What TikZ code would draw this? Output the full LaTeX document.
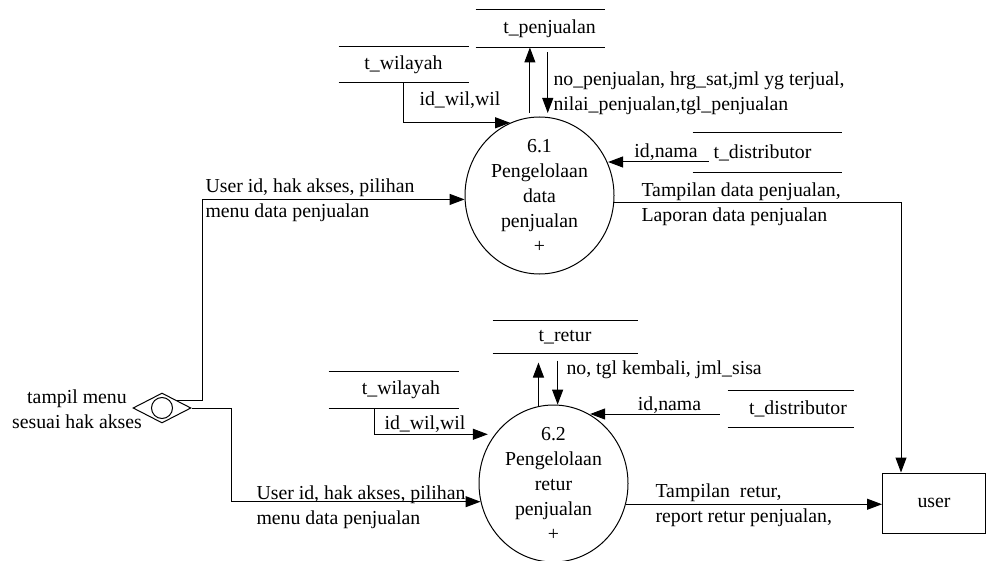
\documentclass[tikz,border=0pt]{standalone}
\usepackage{fontspec}
\setmainfont{Liberation Serif}
\usetikzlibrary{arrows.meta,shapes.geometric,calc}
\tikzset{
  proses/.style={ellipse,draw,minimum width=149pt,minimum height=157pt,inner xsep=0pt,inner ysep=-6pt,align=center},
  store/.style={inner sep=0pt,minimum width=#1,append after command={
      (\tikzlastnode.north west) edge (\tikzlastnode.north east)
      (\tikzlastnode.south west) edge (\tikzlastnode.south east)}},
  ket/.style={align=left,inner sep=0pt,anchor=west},
}
\begin{document}
\begin{tikzpicture}[x=1pt,y=-1pt,line width=1pt,>={Triangle[length=15pt,width=11pt]},
  font=\fontsize{19.8pt}{25pt}\selectfont]
  \useasboundingbox (0,0) rectangle (987,561);
  % proses
  \node[proses] (p61) at (539.5,195.5) {6.1\\Pengelolaan\\data\\penjualan\\+};
  \node[proses] (p62) at (553.5,483.5) {6.2\\Pengelolaan\\retur\\penjualan\\+};
  % entitas dan menu
  \node[draw,minimum width=103pt,minimum height=60pt] (user) at (934,503) {user};
  \node[diamond,draw,minimum width=58pt,minimum height=30pt,inner sep=0pt] (akses) at (162,408) {};
  \draw (akses.center) circle (10.5);
  \node[align=center] (aksesket) at (77,409.5) {tampil menu\\sesuai hak akses};
  % data store
  \node[store=128pt,minimum height=37pt,label={[xshift=9.5pt]center:t\_penjualan}] (tpj) at (540,28.5) {};
  \node[store=129pt,minimum height=35pt,label={center:t\_wilayah}] (tw1) at (403.5,64.5) {};
  \node[store=148pt,minimum height=39pt,label={[xshift=-4.5pt]center:t\_distributor}] (td1) at (767,152.5) {};
  \node[store=144pt,minimum height=32pt,label={center:t\_retur}] (tr) at (565,337) {};
  \node[store=129pt,minimum height=36pt,label={[xshift=7.5pt]center:t\_wilayah}] (tw2) at (393.5,390) {};
  \node[store=125pt,minimum height=36pt,label={[xshift=7.5pt]center:t\_distributor}] (td2) at (790.5,409) {};
  % aliran 6.1
  \draw[->] (tw1.south) |- (p61.112);
  \node at (460,100) {id\_wil,wil};
  \draw[->] ($(p61.97)+(0,-4)$) -- (p61.97 |- tpj.south);
  \draw[->] ($(tpj.south -| p61.84)+(0,5)$) -- ($(p61.84)+(0,-4)$);
  \node[ket] at (553,93) {no\_penjualan, hrg\_sat,jml yg terjual,\\nilai\_penjualan,tgl\_penjualan};
  \coordinate (d1) at ($(td1.west)+(16,9.5)$);
  \draw[->] (d1) -- (d1 -| p61.25);
  \node at (666,152) {id,nama};
  \draw[->] (p61.-5) -| ($(user.north)+(-33,0)$);
  \node[ket] at (641,204) {Tampilan data penjualan,\\Laporan data penjualan};
  \draw[->] (akses.north east) -- ++(26,0) |- (p61.183);
  \node[ket] at (205,200.5) {User id, hak akses, pilihan\\menu data penjualan};
  % aliran 6.2
  \draw[->] (akses.east) -- ++(40,0) |- (p62.194);
  \node[ket] at (256,507.5) {User id, hak akses, pilihan\\menu data penjualan};
  \draw[->] ($(tw2.south)+(-19.5,0)$) |- ($(p62.140)+(-7,0)$);
  \node at (425,424) {id\_wil,wil};
  \draw[->] (p62.101) -- ($(p62.101 |- tr.south)+(0,9)$);
  \draw[->] ($(tr.south -| p62.87)+(0,7)$) -- (p62.87);
  \node[ket] at (566,370) {no, tgl kembali, jml\_sisa};
  \coordinate (d2) at ($(td2.west)+(-8,5)$);
  \draw[->] (d2) -- (d2 -| p62.62);
  \node at (669.5,405) {id,nama};
  \draw[->] (p62.-16) -- (p62.-16 -| user.west);
  \node[ket] at (655,505.5) {Tampilan\ \ retur,\\report retur penjualan,};
\end{tikzpicture}
\end{document}
